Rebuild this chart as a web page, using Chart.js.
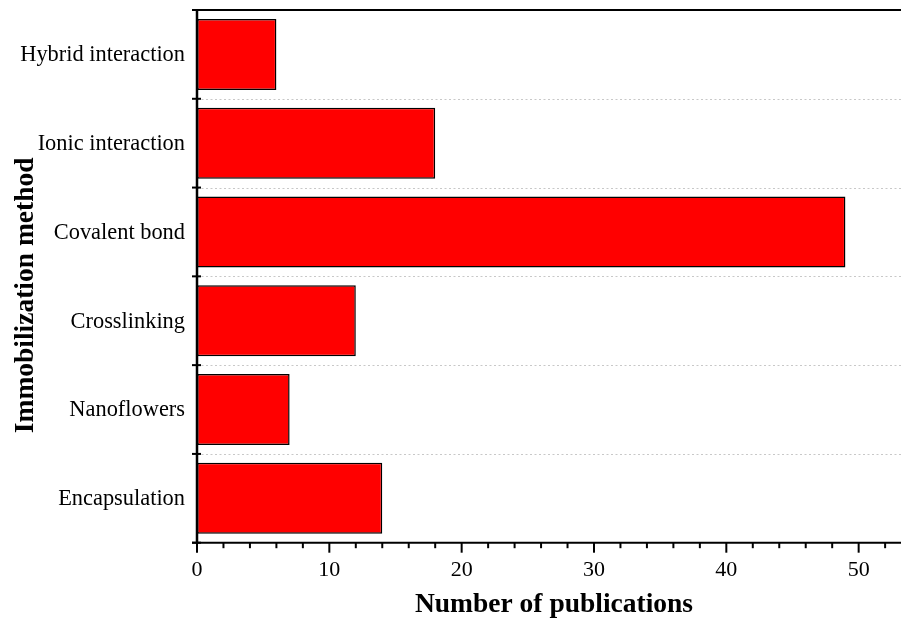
<!DOCTYPE html>
<html>
<head>
<meta charset="utf-8">
<title>Immobilization methods</title>
<script src="https://cdn.jsdelivr.net/npm/chart.js@4/dist/chart.umd.min.js"></script>
<style>
  html, body { margin: 0; padding: 0; background: #fff; }
  #wrap { width: 901px; height: 630px; position: relative; }
</style>
</head>
<body>
<div id="wrap"><canvas id="chart"></canvas></div>
<script>
// Publication counts per immobilization method
const methods = [
  'Hybrid interaction',
  'Ionic interaction',
  'Covalent bond',
  'Crosslinking',
  'Nanoflowers',
  'Encapsulation'
];
const publications = [6, 18, 49, 12, 7, 14];

// Axis ticks: labelled majors every 10, minors every 2
const majorTicks = [0, 10, 20, 30, 40, 50];
const minorStep = 2;
const xMax = 53.2;

const xTitle = 'Number of publications';
const yTitle = 'Immobilization method';

const serif = "'Liberation Serif', 'Times New Roman', serif";

// Draws the frame: dotted separators, axis lines, top rule, tick marks and axis titles
const framePlugin = {
  id: 'frame',
  beforeDatasetsDraw(chart) {
    const { ctx, chartArea, scales } = chart;
    const y = scales.y;
    ctx.save();
    ctx.strokeStyle = '#c8c8c8';
    ctx.lineWidth = 1;
    ctx.setLineDash([2, 2.5]);
    for (let i = 0; i < methods.length - 1; i++) {
      const py = Math.round((y.getPixelForValue(i) + y.getPixelForValue(i + 1)) / 2) + 0.5;
      ctx.beginPath();
      ctx.moveTo(chartArea.left, py);
      ctx.lineTo(chartArea.right, py);
      ctx.stroke();
    }
    ctx.restore();
  },
  afterDatasetsDraw(chart) {
    const { ctx, chartArea, scales } = chart;
    const x = scales.x, y = scales.y;
    const { left, right, top, bottom } = chartArea;
    ctx.save();
    ctx.strokeStyle = '#000';
    ctx.setLineDash([]);

    // top rule
    ctx.lineWidth = 2;
    ctx.beginPath();
    ctx.moveTo(left, top);
    ctx.lineTo(right, top);
    ctx.stroke();

    // x axis
    ctx.beginPath();
    ctx.moveTo(left - 5, bottom);
    ctx.lineTo(right, bottom);
    ctx.stroke();

    // y axis
    ctx.lineWidth = 2.5;
    ctx.beginPath();
    ctx.moveTo(left, top - 1);
    ctx.lineTo(left, bottom + 1);
    ctx.stroke();

    // y ticks at category boundaries
    ctx.lineWidth = 2;
    const bounds = [top];
    for (let i = 0; i < methods.length - 1; i++) {
      bounds.push((y.getPixelForValue(i) + y.getPixelForValue(i + 1)) / 2);
    }
    bounds.push(bottom);
    bounds.forEach(py => {
      ctx.beginPath();
      ctx.moveTo(left - 5, py);
      ctx.lineTo(left + 4, py);
      ctx.stroke();
    });

    // x ticks
    for (let v = 0; v <= x.max; v += minorStep) {
      const px = x.getPixelForValue(v);
      const len = majorTicks.includes(v) ? 10 : 5.5;
      ctx.beginPath();
      ctx.moveTo(px, bottom);
      ctx.lineTo(px, bottom + len);
      ctx.stroke();
    }

    // axis titles
    ctx.fillStyle = '#000';
    ctx.font = `bold 27.5px ${serif}`;
    ctx.textAlign = 'center';
    ctx.textBaseline = 'alphabetic';
    ctx.fillText(xTitle, (left + right) / 2 + 5, bottom + 69);

    ctx.translate(33, (top + bottom) / 2 + 19);
    ctx.rotate(-Math.PI / 2);
    ctx.fillText(yTitle, 0, 0);
    ctx.restore();
  }
};

new Chart(document.getElementById('chart'), {
  type: 'bar',
  data: {
    labels: methods,
    datasets: [{
      data: publications,
      backgroundColor: '#ff0000',
      borderColor: '#000000',
      borderWidth: 1.5,
      borderSkipped: false,
      barPercentage: 0.8,
      categoryPercentage: 1.0
    }]
  },
  options: {
    indexAxis: 'y',
    responsive: true,
    maintainAspectRatio: false,
    animation: false,
    layout: { padding: { top: 10, right: 0, left: 0, bottom: 0 } },
    plugins: {
      legend: { display: false },
      tooltip: { enabled: false }
    },
    scales: {
      x: {
        type: 'linear',
        min: 0,
        max: xMax,
        grid: { display: false, drawTicks: false },
        border: { display: false },
        afterBuildTicks(scale) {
          scale.ticks = majorTicks.map(v => ({ value: v }));
        },
        afterFit(scale) {
          scale.height = 87.3;
          scale.paddingLeft = 0;
          scale.paddingRight = 0;
        },
        ticks: {
          padding: 14,
          color: '#000',
          font: { family: serif, size: 22 }
        }
      },
      y: {
        type: 'category',
        offset: true,
        grid: { display: false, drawTicks: false },
        border: { display: false },
        afterFit(scale) {
          scale.width = 197;
          scale.paddingTop = 0;
          scale.paddingBottom = 0;
        },
        ticks: {
          padding: 12,
          labelOffset: 1,
          color: '#000',
          font: { family: serif, size: 22.4 }
        }
      }
    }
  },
  plugins: [framePlugin]
});
</script>
</body>
</html>
